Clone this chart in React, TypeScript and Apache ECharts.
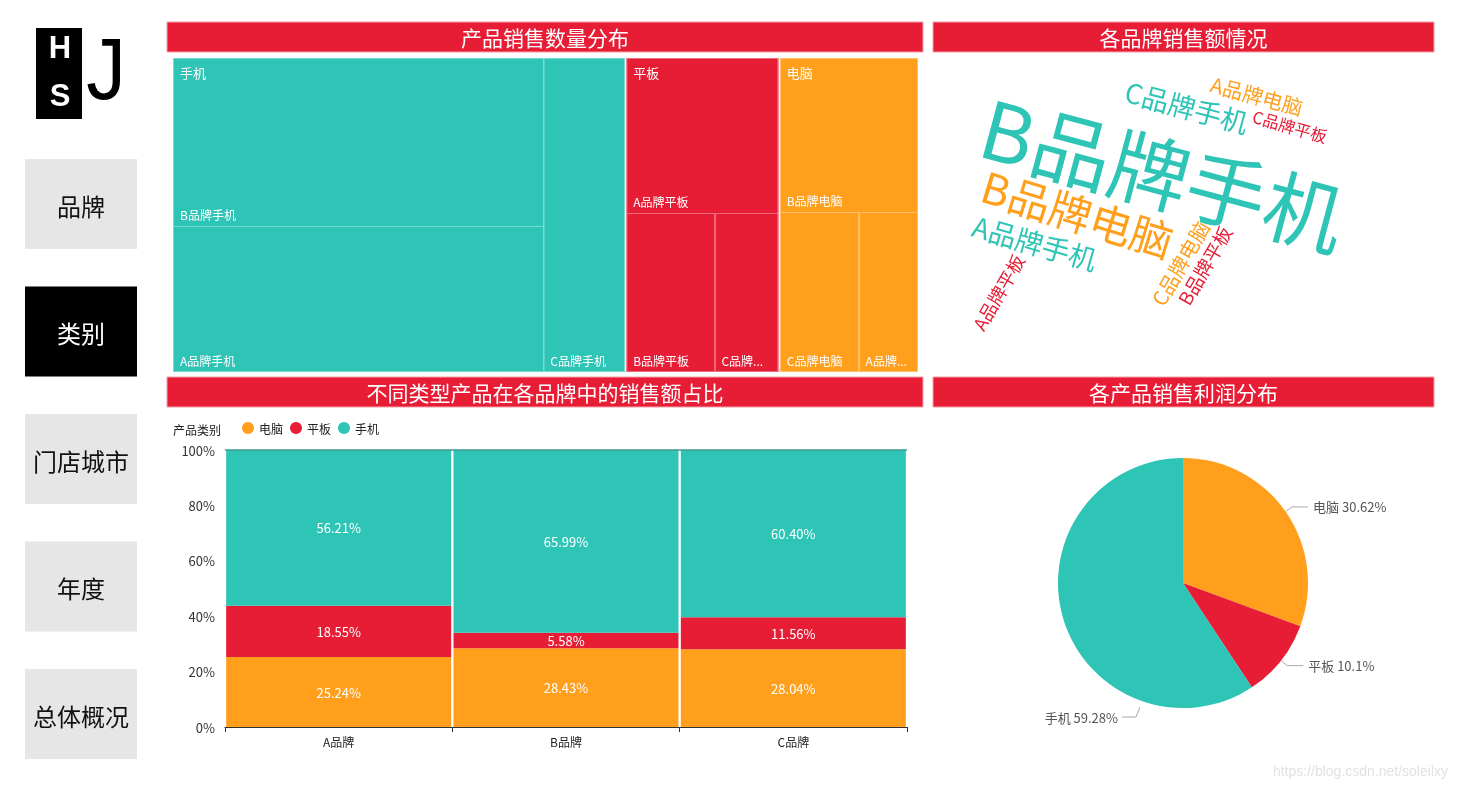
import React, { useEffect, useRef } from 'react';
import * as echarts from 'echarts';

const TEAL = '#2EC4B6';
const RED = '#E71D36';
const ORANGE = '#FF9F1C';
const FONT = "'Noto Sans CJK SC', 'Microsoft YaHei', sans-serif";

// navigation
const navItems = ['品牌', '类别', '门店城市', '年度', '总体概况'];
const navSelected = '类别';

// panel titles
const panelTitles = ['产品销售数量分布', '各品牌销售额情况', '不同类型产品在各品牌中的销售额占比', '各产品销售利润分布'];

// treemap: sales quantity by category / brand
const categories = ['手机', '平板', '电脑'];
const brands = ['A品牌', 'B品牌', 'C品牌'];
const qtyPhone = [229, 265, 108];
const qtyTablet = [101, 60, 43];
const qtyComputer = [40, 91, 54];

// stacked 100% bars: share of sales by brand
const barCategories = ['电脑', '平板', '手机'];
const shareComputer = [25.24, 28.43, 28.04];
const shareTablet = [18.55, 5.58, 11.56];
const sharePhone = [56.21, 65.99, 60.4];

// pie: profit share
const profitNames = ['电脑', '平板', '手机'];
const profitShares = [30.62, 10.1, 59.28];

// word cloud: sales amount by brand + category
const wordNames = ['B品牌手机', 'B品牌电脑', 'A品牌手机', 'C品牌手机', 'A品牌电脑', 'C品牌电脑', 'B品牌平板', 'A品牌平板', 'C品牌平板'];
const wordValues = [800, 425, 278, 272, 205, 202, 188, 182, 165];

// word cloud placement (layout only): [centerX, centerY, angleDeg]
const wordLayout = [
  [1164, 170, -15],
  [1078, 212, -17],
  [1035, 242, -16],
  [1187, 106, -15],
  [1257, 95, -15],
  [1180, 263, 60],
  [1204, 265, 60],
  [998, 292, 60],
  [1290, 126, -16],
];

const catColor: Record<string, string> = { 手机: TEAL, 平板: RED, 电脑: ORANGE };
const catLine: Record<string, string> = { 手机: '#7ad8cf', 平板: '#ef6a7c', 电脑: '#ffc06a' };
const qtyByCat: Record<string, number[]> = { 手机: qtyPhone, 平板: qtyTablet, 电脑: qtyComputer };

function colorOfWord(w: string) {
  if (w.endsWith('手机')) return TEAL;
  if (w.endsWith('平板')) return RED;
  return ORANGE;
}

export default function App() {
  const ref = useRef<HTMLDivElement>(null);
  useEffect(() => {
    if (!ref.current) return;
    const chart = echarts.init(ref.current, null, { renderer: 'svg' });

    const graphics: any[] = [];
    // logo
    graphics.push({ type: 'rect', shape: { x: 36, y: 28, width: 46, height: 91 }, style: { fill: '#000' } });
    graphics.push({ type: 'text', x: 60, y: 47, style: { text: 'H', fill: '#fff', fontSize: 31, fontWeight: 'bold', fontFamily: "'Liberation Sans', Arial", align: 'center', verticalAlign: 'middle' } });
    graphics.push({ type: 'text', x: 60, y: 95, style: { text: 'S', fill: '#fff', fontSize: 31, fontWeight: 'bold', fontFamily: "'Liberation Sans', Arial", align: 'center', verticalAlign: 'middle' } });
    graphics.push({ type: 'text', x: 106, y: 69, scaleX: 0.9, style: { text: 'J', fill: '#000', fontSize: 88, fontFamily: "'Liberation Sans', Arial", align: 'center', verticalAlign: 'middle' } });

    // nav buttons
    navItems.forEach((t, i) => {
      const y = 159 + i * 127.5;
      const sel = t === navSelected;
      graphics.push({ type: 'rect', shape: { x: 25, y, width: 112, height: 90 }, style: { fill: sel ? '#000' : '#e6e6e6' } });
      graphics.push({ type: 'text', x: 81, y: y + 46, style: { text: t, fill: sel ? '#fff' : '#111', fontSize: 24, fontFamily: FONT, align: 'center', verticalAlign: 'middle' } });
    });

    // title bars
    const bars = [
      [167, 22, 756],
      [933, 22, 501],
      [167, 377, 756],
      [933, 377, 501],
    ];
    bars.forEach((b, i) => {
      graphics.push({ type: 'rect', shape: { x: b[0], y: b[1], width: b[2], height: 30 }, style: { fill: RED, stroke: '#f3a0aa', lineWidth: 1 } });
      graphics.push({ type: 'text', x: b[0] + b[2] / 2, y: b[1] + 15, style: { text: panelTitles[i], fill: '#fff', fontSize: 21, fontFamily: FONT, align: 'center', verticalAlign: 'middle' } });
    });

    // word cloud
    wordNames.forEach((w, i) => {
      const [cx, cy, ang] = wordLayout[i];
      graphics.push({
        type: 'text', x: cx, y: cy, rotation: (ang * Math.PI) / 180,
        style: { text: w, fill: colorOfWord(w), fontSize: wordValues[i] / 10, fontFamily: FONT, align: 'center', verticalAlign: 'middle' },
      });
    });

    // legend title
    graphics.push({ type: 'text', x: 173, y: 429, style: { text: '产品类别', fill: '#222', fontSize: 12, fontFamily: FONT, verticalAlign: 'middle' } });

    // watermark
    graphics.push({ type: 'text', x: 1448, y: 771, style: { text: 'https://blog.csdn.net/soleilxy', fill: '#e2e2e2', fontSize: 14, fontFamily: "'Liberation Sans', Arial", align: 'right', verticalAlign: 'middle' } });

    const treeData = categories.map((c) => ({
      name: c,
      itemStyle: { color: catColor[c], borderColor: catLine[c] },
      children: brands.map((b, j) => ({ name: b + c, value: qtyByCat[c][j] })),
    }));
    const treeTop = categories.map((c) => ({
      name: c,
      value: qtyByCat[c].reduce((a, v) => a + v, 0),
      itemStyle: { color: 'rgba(0,0,0,0)', borderColor: 'rgba(0,0,0,0)' },
    }));

    const barSeries: any[] = [shareComputer, shareTablet, sharePhone].map((arr, i) => ({
      type: 'bar',
      name: barCategories[i],
      stack: 'share',
      barWidth: 225,
      data: arr,
      itemStyle: { color: catColor[barCategories[i]] },
      label: {
        show: true, position: 'inside', color: '#fff', fontSize: 13, fontFamily: FONT,
        formatter: (p: any) => p.value.toFixed(2) + '%',
      },
    }));
    barSeries[2].markLine = {
      silent: true, symbol: 'none', label: { show: false },
      lineStyle: { color: '#3f9a92', type: 'solid', width: 1.5 },
      data: [{ yAxis: 100 }],
    };

    chart.setOption({
      animation: false,
      textStyle: { fontFamily: FONT },
      graphic: graphics,
      legend: {
        left: 237, top: 417, icon: 'circle', itemWidth: 12, itemHeight: 12, itemGap: 7,
        data: barCategories, textStyle: { fontSize: 12, color: '#222', fontFamily: FONT },
        selectedMode: false,
      },
      grid: { left: 225, top: 450, width: 682, height: 277 },
      xAxis: {
        type: 'category', data: brands,
        axisLine: { lineStyle: { color: '#333' } },
        axisTick: { show: true, lineStyle: { color: '#333' } },
        axisLabel: { fontSize: 12, color: '#222', margin: 8 },
      },
      yAxis: {
        type: 'value', min: 0, max: 100, interval: 20,
        axisLabel: { formatter: '{value}%', fontSize: 13, color: '#333', margin: 10 },
        splitLine: { show: false }, axisLine: { show: false }, axisTick: { show: false },
      },
      series: [
        {
          type: 'treemap', left: 173, top: 58, width: 745, height: 314,
          roam: false, nodeClick: false, breadcrumb: { show: false },
          label: { show: true, position: 'insideBottomLeft', color: '#fff', fontSize: 12, padding: [0, 5, 5, 6], fontFamily: FONT },
          upperLabel: { show: false },
          itemStyle: { borderWidth: 0, gapWidth: 1, borderColor: '#fff' },
          levels: [
            { itemStyle: { borderWidth: 0, gapWidth: 1, borderColor: '#fff' } },
            { itemStyle: { borderWidth: 1, gapWidth: 1 } },
            { itemStyle: { borderWidth: 0, gapWidth: 0 } },
          ],
          data: treeData,
        },
        {
          type: 'treemap', left: 173, top: 58, width: 745, height: 314, z: 5, silent: true,
          roam: false, nodeClick: false, breadcrumb: { show: false },
          label: { show: true, position: 'insideTopLeft', color: '#fff', fontSize: 13, padding: [7, 6, 0, 6], fontFamily: FONT },
          itemStyle: { borderWidth: 0, gapWidth: 1, borderColor: 'rgba(0,0,0,0)', color: 'rgba(0,0,0,0)' },
          levels: [
            { itemStyle: { borderWidth: 0, gapWidth: 1, borderColor: 'rgba(0,0,0,0)', color: 'rgba(0,0,0,0)' } },
            { itemStyle: { borderWidth: 1, gapWidth: 1, borderColor: 'rgba(0,0,0,0)', color: 'rgba(0,0,0,0)' } },
          ],
          data: treeTop,
        },
        ...barSeries,
        {
          type: 'pie', center: [1183, 583], radius: 125, startAngle: 90, clockwise: true,
          label: { formatter: '{b} {d}%', fontSize: 13, color: '#555', fontFamily: FONT },
          labelLine: { length: 8, length2: 16, lineStyle: { color: '#aaa' } },
          labelLayout: (p: any) => p.dataIndex === 2
            ? { x: 1118, y: 717, align: 'right', verticalAlign: 'middle', labelLinePoints: [[1140, 707], [1136, 717], [1122, 717]] }
            : undefined,
          itemStyle: { borderWidth: 0 },
          data: profitNames.map((n, i) => ({ name: n, value: profitShares[i], itemStyle: { color: catColor[n] } })),
        },
      ],
    });
    return () => chart.dispose();
  }, []);
  return <div ref={ref} style={{ position: 'fixed', left: 0, top: 0, width: 1457, height: 789 }} />;
}
